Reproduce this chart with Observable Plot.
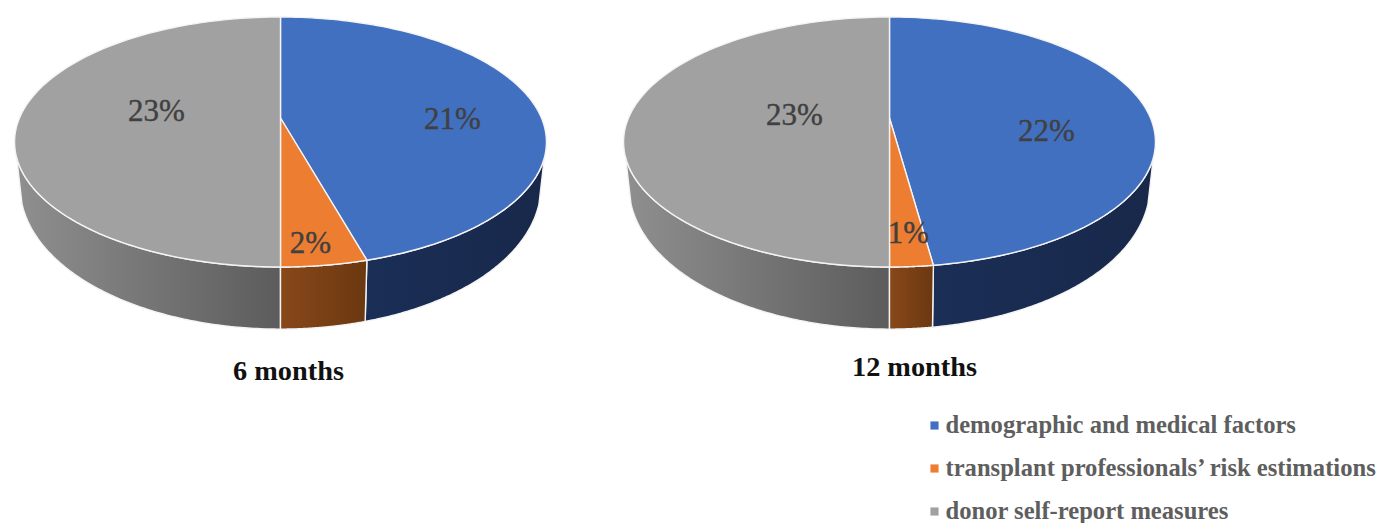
<!DOCTYPE html>
<html>
<head>
<meta charset="utf-8">
<script src="https://cdn.jsdelivr.net/npm/d3@7"></script>
<script src="https://cdn.jsdelivr.net/npm/@observablehq/plot@0.6"></script>
<style>
html,body{margin:0;padding:0;background:#fff;overflow:hidden}
svg{display:block}
svg text{font-family:"Liberation Serif",serif}
</style>
</head>
<body>
<script>
// Data
const categories = ["demographic and medical factors", "transplant professionals’ risk estimations", "donor self-report measures"];
const periods = ["6 months", "12 months"];
const values6 = [21, 2, 23];
const values12 = [22, 1, 23];
const topColors = ["#4270c1", "#ed7d31", "#a1a1a1"];

// Layout of the tilted discs (perspective view of a circle)
const W = 1379, H = 523;
const centers = [280, 889];
const apexY = 117.5, A = 261, B = 120.4, K = 0.192, S = 0.98;
const depth = v => 38.8 - 23.3 * v;
const pt = (cx, th) => {
  const u = Math.sin(th), v = Math.cos(th), w = 1 + K * v;
  return {X: A * u / w, Y: apexY - B * v / w, v, cx};
};
const rimTop = (cx, th) => { const p = pt(cx, th); return {x: cx + p.X, y: p.Y}; };
const rimBot = (cx, th) => { const p = pt(cx, th); return {x: cx + S * p.X, y: p.Y + depth(p.v)}; };
const arc = (a, b) => d3.range(0, 121).map(i => a + (b - a) * i / 120);
const TH0 = 108.2 * Math.PI / 180, TH1 = 2 * Math.PI - TH0;

const series = [values6, values12];
const sideMarks = [], topMarks = [];
const sideFill = ["url(#sideBlue)", "url(#sideOrange)", "url(#sideGray)"];
const edge = {stroke: "#f4f4f4", strokeWidth: 1.4, strokeLinejoin: "round"};

series.forEach((vals, pi) => {
  const cx = centers[pi];
  const total = d3.sum(vals);
  let acc = 0;
  const wedges = vals.map(v => {
    const a = acc / total * 2 * Math.PI;
    acc += v;
    return [a, acc / total * 2 * Math.PI];
  });
  // sides, only the part facing the viewer
  [2, 0, 1].forEach(i => {
    const a = Math.max(wedges[i][0], TH0), b = Math.min(wedges[i][1], TH1);
    const ths = arc(a, b);
    const poly = [...ths.map(t => rimTop(cx, t)), ...ths.slice().reverse().map(t => rimBot(cx, t))];
    poly.push(poly[0]);
    sideMarks.push(Plot.line(poly, {x: "x", y: "y", fill: sideFill[i], ...edge}));
  });
  // top faces
  wedges.forEach(([a, b], i) => {
    const poly = [{x: cx, y: apexY}, ...arc(a, b).map(t => rimTop(cx, t)), {x: cx, y: apexY}];
    topMarks.push(Plot.line(poly, {x: "x", y: "y", fill: topColors[i], ...edge}));
  });
});

// Text positions
const sliceLabelX = [[452, 310, 156], [1046, 908, 794]];
const sliceLabelY = [[119, 243, 111], [131, 233, 115]];
const sliceLabels = series.flatMap((vals, pi) => vals.map((v, i) => ({
  text: v + "%", x: sliceLabelX[pi][i], y: sliceLabelY[pi][i]
})));
const titles = [{text: periods[0], x: 288, y: 370}, {text: periods[1], x: 914, y: 366}];
const legendY = [425, 468, 511];
const legend = categories.map((c, i) => ({c, y: legendY[i], color: topColors[i]}));

const plot = Plot.plot({
  width: W, height: H,
  margin: 0,
  x: {domain: [0, W], range: [0, W], axis: null},
  y: {domain: [0, H], range: [0, H], axis: null},
  style: {background: "#fff", overflow: "visible"},
  marks: [
    ...sideMarks,
    ...topMarks,
    Plot.text(sliceLabels, {x: "x", y: "y", text: "text", fontSize: 31, fill: "#404040", stroke: "#404040", strokeWidth: 0.4}),
    Plot.text(titles, {x: "x", y: "y", text: "text", fontSize: 28.3, fontWeight: "bold", fill: "#111"}),
    Plot.dot(legend, {x: 934, y: "y", symbol: "square", r: 4.6, fill: "color", stroke: "none"}),
    Plot.text(legend, {x: 945, y: "y", text: "c", textAnchor: "start", fontSize: 24.6, fontWeight: "bold", fill: "#5e5e5e"})
  ]
});

const defs = d3.select(plot).insert("defs", ":first-child");
const grad = (id, c0, c1) => {
  const g = defs.append("linearGradient").attr("id", id).attr("x1", 0).attr("x2", 1).attr("y1", 0).attr("y2", 0);
  g.append("stop").attr("offset", 0).attr("stop-color", c0);
  g.append("stop").attr("offset", 1).attr("stop-color", c1);
};
grad("sideGray", "#8f8f8f", "#5c5c5c");
grad("sideOrange", "#88481a", "#6b3810");
grad("sideBlue", "#1b2e56", "#17284a");
document.body.appendChild(plot);
</script>
</body>
</html>
